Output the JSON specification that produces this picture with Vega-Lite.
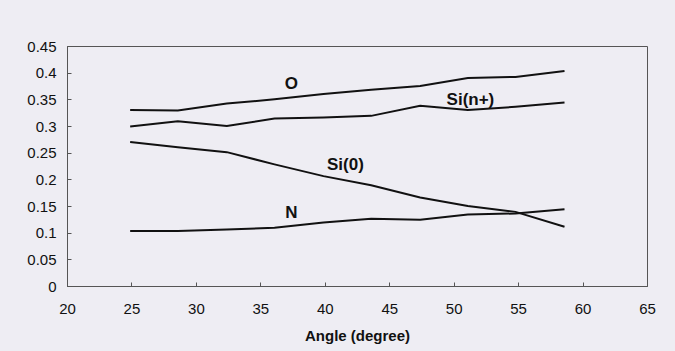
{
  "$schema": "https://vega.github.io/schema/vega-lite/v6.json",
  "width": 580,
  "height": 240,
  "autosize": {"type": "none"},
  "padding": {"left": 67, "top": 46, "right": 28, "bottom": 65},
  "background": "#eeedf3",
  "config": {
    "font": "Liberation Sans",
    "view": {"stroke": "#555555", "strokeWidth": 1, "fill": "#eeedf3"},
    "axis": {
      "grid": false,
      "domainColor": "#555555",
      "domainWidth": 1,
      "tickColor": "#555555",
      "tickSize": -4,
      "labelFont": "Liberation Sans",
      "labelFontSize": 15,
      "labelColor": "#111111",
      "labelOverlap": false,
      "titleFont": "Liberation Sans",
      "titleColor": "#111111"
    }
  },
  "datasets": {
    "series": [
      {"angle": 24.9, "value": 0.330, "species": "O"},
      {"angle": 28.6, "value": 0.329, "species": "O"},
      {"angle": 32.4, "value": 0.342, "species": "O"},
      {"angle": 36.1, "value": 0.350, "species": "O"},
      {"angle": 39.9, "value": 0.360, "species": "O"},
      {"angle": 43.6, "value": 0.368, "species": "O"},
      {"angle": 47.4, "value": 0.375, "species": "O"},
      {"angle": 51.1, "value": 0.390, "species": "O"},
      {"angle": 54.8, "value": 0.392, "species": "O"},
      {"angle": 58.6, "value": 0.403, "species": "O"},
      {"angle": 24.9, "value": 0.299, "species": "Si(n+)"},
      {"angle": 28.6, "value": 0.309, "species": "Si(n+)"},
      {"angle": 32.4, "value": 0.300, "species": "Si(n+)"},
      {"angle": 36.1, "value": 0.314, "species": "Si(n+)"},
      {"angle": 39.9, "value": 0.316, "species": "Si(n+)"},
      {"angle": 43.6, "value": 0.319, "species": "Si(n+)"},
      {"angle": 47.4, "value": 0.338, "species": "Si(n+)"},
      {"angle": 51.1, "value": 0.330, "species": "Si(n+)"},
      {"angle": 54.8, "value": 0.336, "species": "Si(n+)"},
      {"angle": 58.6, "value": 0.344, "species": "Si(n+)"},
      {"angle": 24.9, "value": 0.270, "species": "Si(0)"},
      {"angle": 28.6, "value": 0.260, "species": "Si(0)"},
      {"angle": 32.4, "value": 0.251, "species": "Si(0)"},
      {"angle": 36.1, "value": 0.228, "species": "Si(0)"},
      {"angle": 39.9, "value": 0.206, "species": "Si(0)"},
      {"angle": 43.6, "value": 0.189, "species": "Si(0)"},
      {"angle": 47.4, "value": 0.166, "species": "Si(0)"},
      {"angle": 51.1, "value": 0.150, "species": "Si(0)"},
      {"angle": 54.8, "value": 0.139, "species": "Si(0)"},
      {"angle": 58.6, "value": 0.111, "species": "Si(0)"},
      {"angle": 24.9, "value": 0.103, "species": "N"},
      {"angle": 28.6, "value": 0.103, "species": "N"},
      {"angle": 32.4, "value": 0.106, "species": "N"},
      {"angle": 36.1, "value": 0.109, "species": "N"},
      {"angle": 39.9, "value": 0.119, "species": "N"},
      {"angle": 43.6, "value": 0.126, "species": "N"},
      {"angle": 47.4, "value": 0.124, "species": "N"},
      {"angle": 51.1, "value": 0.134, "species": "N"},
      {"angle": 54.8, "value": 0.136, "species": "N"},
      {"angle": 58.6, "value": 0.144, "species": "N"}
    ],
    "labels": [
      {"angle": 37.4, "value": 0.379, "species": "O"},
      {"angle": 51.3, "value": 0.349, "species": "Si(n+)"},
      {"angle": 41.6, "value": 0.227, "species": "Si(0)"},
      {"angle": 37.4, "value": 0.137, "species": "N"}
    ]
  },
  "layer": [
    {
      "data": {"name": "series"},
      "mark": {"type": "line", "color": "#111111", "strokeWidth": 2},
      "encoding": {
        "x": {
          "field": "angle",
          "type": "quantitative",
          "scale": {"domain": [20, 65], "nice": false, "zero": false},
          "axis": {
            "title": "Angle (degree)",
            "titleFontSize": 15,
            "titleFontWeight": "bold",
            "titlePadding": 12,
            "values": [20, 25, 30, 35, 40, 45, 50, 55, 60, 65],
            "labelPadding": 19,
            "labelOverlap": false,
            "labelFlush": false
          }
        },
        "y": {
          "field": "value",
          "type": "quantitative",
          "scale": {"domain": [0, 0.45], "nice": false},
          "axis": {
            "title": null,
            "values": [0, 0.05, 0.1, 0.15, 0.2, 0.25, 0.3, 0.35, 0.4, 0.45],
            "tickCount": 10,
            "labelExpr": "format(datum.value, '~g')",
            "labelPadding": 15,
            "labelOverlap": false,
            "labelFlush": false
          }
        },
        "detail": {"field": "species", "type": "nominal"}
      }
    },
    {
      "data": {"name": "labels"},
      "mark": {"type": "text", "fontWeight": "bold", "fontSize": 17, "font": "Liberation Sans", "color": "#111111", "baseline": "middle", "align": "center"},
      "encoding": {
        "x": {"field": "angle", "type": "quantitative"},
        "y": {"field": "value", "type": "quantitative"},
        "text": {"field": "species", "type": "nominal"}
      }
    }
  ]
}
